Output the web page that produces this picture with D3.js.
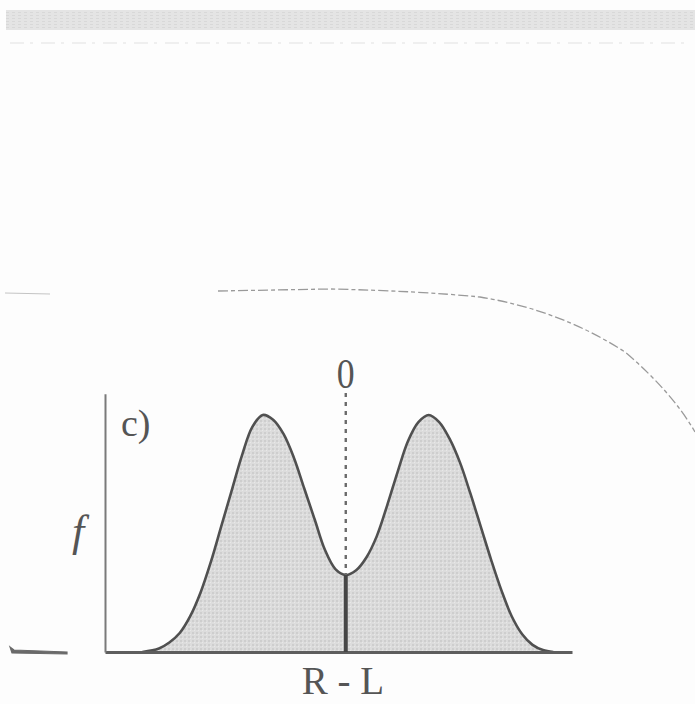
<!DOCTYPE html>
<html>
<head>
<meta charset="utf-8">
<script src="https://cdn.jsdelivr.net/npm/d3@7/dist/d3.min.js"></script>
<style>
  html, body { margin: 0; padding: 0; background: #fdfdfd; }
  svg { display: block; }
</style>
</head>
<body>
<svg id="chart" width="695" height="704"></svg>
<script>
// Distribution of the difference R - L (arbitrary units), density f
const rl = [-9.8, -9.0, -8.5, -8.0, -7.5, -7.0, -6.5, -6.0, -5.5, -5.0, -4.5, -4.0, -3.5, -3.0, -2.5, -2.0, -1.5, -1.0, -0.5, 0,
            0.5, 1.0, 1.5, 2.0, 2.5, 3.0, 3.5, 4.0, 4.5, 5.0, 5.5, 6.0, 6.5, 7.0, 7.5, 8.0, 8.5, 9.0, 9.5, 10.0];
const density = [0.0, 0.015, 0.04, 0.08, 0.15, 0.25, 0.38, 0.53, 0.68, 0.83, 0.95, 1.0, 0.98, 0.92, 0.82, 0.69, 0.56, 0.43, 0.35, 0.325,
                 0.345, 0.40, 0.49, 0.62, 0.76, 0.89, 0.97, 1.0, 0.97, 0.90, 0.80, 0.67, 0.53, 0.39, 0.26, 0.15, 0.075, 0.03, 0.008, 0.0];
const tickValues = [0];
const tickLabels = ["0"];
const panelLabel = "c)";
const xLabel = "R - L";
const yLabel = "f";

const svg = d3.select("#chart");
const defs = svg.append("defs");

// fine halftone texture for the shaded area
const pat = defs.append("pattern").attr("id", "screen")
  .attr("width", 4).attr("height", 4).attr("patternUnits", "userSpaceOnUse");
pat.append("rect").attr("width", 4).attr("height", 4).attr("fill", "#dcdcdc");
pat.append("rect").attr("x", 0).attr("y", 0).attr("width", 2).attr("height", 2).attr("fill", "#cecece");
pat.append("rect").attr("x", 2).attr("y", 2).attr("width", 1).attr("height", 1).attr("fill", "#e8e8e8");

const bandPat = defs.append("pattern").attr("id", "band")
  .attr("width", 6).attr("height", 3).attr("patternUnits", "userSpaceOnUse");
bandPat.append("rect").attr("width", 6).attr("height", 3).attr("fill", "#e4e4e4");
bandPat.append("rect").attr("width", 3).attr("height", 1).attr("fill", "#d8d8d8");

// page furniture around the panel
svg.append("rect").attr("x", 6).attr("y", 10).attr("width", 689).attr("height", 20).attr("fill", "url(#band)");
svg.append("line").attr("x1", 10).attr("x2", 690).attr("y1", 43).attr("y2", 43)
  .attr("stroke", "#e2e2e2").attr("stroke-width", 1.2).attr("stroke-dasharray", "14 6 3 8");
svg.append("line").attr("x1", 5).attr("x2", 50).attr("y1", 293).attr("y2", 294)
  .attr("stroke", "#c4c4c4").attr("stroke-width", 1.2);
svg.append("path")
  .attr("d", "M218,291 L330,289 Q420,291 480,297 Q560,310 625,352 Q672,392 695,432")
  .attr("fill", "none").attr("stroke", "#9a9a9a").attr("stroke-width", 1.3)
  .attr("stroke-dasharray", "10 3 4 3");
svg.append("path")
  .attr("d", "M10,647 L14,650 L67,652 L67,654 L12,653 Z")
  .attr("fill", "#6a6a6a").attr("stroke", "#6a6a6a").attr("stroke-width", 1.2);

// scales
const x = d3.scaleLinear().domain([-11.6, 10.9]).range([105, 572]);
const y = d3.scaleLinear().domain([0, 1.0]).range([652, 415]);
const yTop = 1.09;

const pts = rl.map((v, i) => [v, density[i]]);

// shaded area under the curve
svg.append("path").datum(pts)
  .attr("d", d3.area().x(d => x(d[0])).y0(y(0)).y1(d => y(d[1])).curve(d3.curveCatmullRom.alpha(0.5)))
  .attr("fill", "url(#screen)");

// curve outline
svg.append("path").datum(pts)
  .attr("d", d3.line().x(d => x(d[0])).y(d => y(d[1])).curve(d3.curveCatmullRom.alpha(0.5)))
  .attr("fill", "none").attr("stroke", "#505050").attr("stroke-width", 2.6);

// axes
const xAxis = d3.axisBottom(x).tickValues([]).tickSize(0).tickSizeOuter(0);
const gx = svg.append("g").attr("transform", `translate(0,${y(0)})`).call(xAxis);
gx.select(".domain").attr("stroke", "#5e5e5e").attr("stroke-width", 3.2);

const yAxis = d3.axisLeft(y.copy().domain([0, yTop]).range([y(0), y(yTop)])).tickValues([]).tickSize(0).tickSizeOuter(0);
const gy = svg.append("g").attr("transform", `translate(${x.range()[0]},0)`).call(yAxis);
gy.select(".domain").attr("stroke", "#7a7a7a").attr("stroke-width", 2);

// zero reference: dashed above the curve, solid below
const valley = density[rl.indexOf(0)];
tickValues.forEach((t, i) => {
  svg.append("line")
    .attr("x1", x(t)).attr("x2", x(t)).attr("y1", 393).attr("y2", y(valley))
    .attr("stroke", "#6a6a6a").attr("stroke-width", 2.4).attr("stroke-dasharray", "4 5");
  svg.append("line")
    .attr("x1", x(t)).attr("x2", x(t)).attr("y1", y(valley)).attr("y2", y(0))
    .attr("stroke", "#454545").attr("stroke-width", 4);
  svg.append("text")
    .attr("x", x(t)).attr("y", 388)
    .attr("text-anchor", "middle")
    .attr("font-family", "Liberation Serif, DejaVu Serif, serif")
    .attr("font-size", 42).attr("fill", "#555")
    .attr("transform", `translate(${x(t)},388) scale(0.85,1) translate(${-x(t)},-388)`)
    .text(tickLabels[i]);
});

// labels
svg.append("text").attr("x", 121).attr("y", 436)
  .attr("font-family", "Liberation Serif, DejaVu Serif, serif")
  .attr("font-size", 38).attr("fill", "#555").text(panelLabel);
svg.append("text").attr("x", 78).attr("y", 546).attr("text-anchor", "middle")
  .attr("font-family", "Liberation Serif, DejaVu Serif, serif").attr("font-style", "italic")
  .attr("font-size", 44).attr("fill", "#555").text(yLabel);
svg.append("text").attr("x", 343).attr("y", 694).attr("text-anchor", "middle")
  .attr("font-family", "Liberation Serif, DejaVu Serif, serif")
  .attr("font-size", 39).attr("fill", "#555").text(xLabel);
</script>
</body>
</html>
